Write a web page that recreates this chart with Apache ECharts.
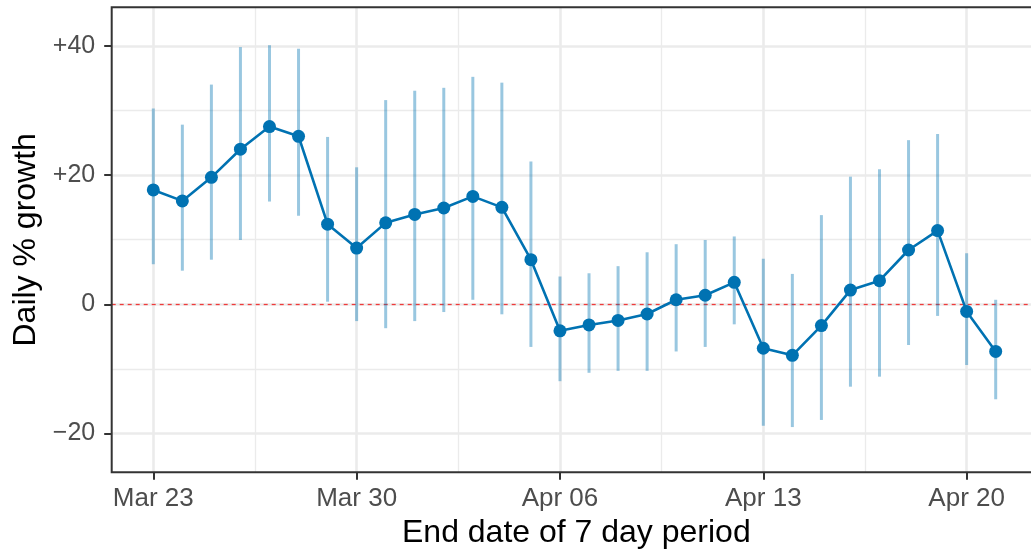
<!DOCTYPE html>
<html>
<head>
<meta charset="utf-8">
<script src="https://cdn.jsdelivr.net/npm/echarts@6/dist/echarts.min.js"></script>
<style>
html,body{margin:0;padding:0;background:#fff;}
#chart{width:1031px;height:557px;}
</style>
</head>
<body>
<div id="chart"></div>
<script>
// End dates of each 7-day period
const dates = ['Mar 23','Mar 24','Mar 25','Mar 26','Mar 27','Mar 28','Mar 29','Mar 30','Mar 31',
  'Apr 01','Apr 02','Apr 03','Apr 04','Apr 05','Apr 06','Apr 07','Apr 08','Apr 09','Apr 10',
  'Apr 11','Apr 12','Apr 13','Apr 14','Apr 15','Apr 16','Apr 17','Apr 18','Apr 19','Apr 20','Apr 21'];
// Daily % growth (point estimate)
const growth = [17.7, 16.0, 19.65, 24.0, 27.5, 26.0, 12.4, 8.7, 12.6, 13.9, 14.9, 16.7, 15.0, 6.9,
  -4.1, -3.2, -2.5, -1.5, 0.7, 1.4, 3.4, -6.8, -7.9, -3.3, 2.2, 3.65, 8.4, 11.4, -1.1, -7.3];
// Lower and upper interval bounds
const lower = [6.2, 5.2, 6.9, 9.95, 15.9, 13.7, 0.4, -2.6, -3.7, -2.6, -1.2, 0.7, -1.55, -6.6,
  -11.9, -10.6, -10.3, -10.3, -7.3, -6.6, -3.1, -18.8, -19.0, -17.9, -12.75, -11.2, -6.3, -1.8, -9.4, -14.7];
const upper = [30.3, 27.8, 34.0, 39.8, 40.1, 39.55, 25.9, 21.2, 31.6, 33.05, 33.5, 35.2, 34.3, 22.1,
  4.3, 4.8, 5.9, 8.05, 9.3, 9.95, 10.5, 7.05, 4.7, 13.8, 19.75, 20.9, 25.4, 26.35, 7.9, 0.7];
// Tick positions
const xTicks = [0, 7, 14, 21, 28];
const xMinor = [3.5, 10.5, 17.5, 24.5];
const yTicks = [-20, 0, 20, 40];
const yMinor = [-10, 10, 30];

const font = 'Liberation Sans, Arial, Helvetica, sans-serif';
const pts = growth.map((v, i) => [i, v]);
const bars = growth.map((v, i) => [i, lower[i], upper[i]]);

const gridLines = [];
xTicks.forEach(v => gridLines.push({xAxis: v, lineStyle: {color: '#ebebeb', width: 2.6, type: 'solid'}}));
xMinor.forEach(v => gridLines.push({xAxis: v, lineStyle: {color: '#ebebeb', width: 1.3, type: 'solid'}}));
yTicks.forEach(v => gridLines.push({yAxis: v, lineStyle: {color: '#ebebeb', width: 2.6, type: 'solid'}}));
yMinor.forEach(v => gridLines.push({yAxis: v, lineStyle: {color: '#ebebeb', width: 1.3, type: 'solid'}}));

const chart = echarts.init(document.getElementById('chart'), null, {renderer: 'canvas'});
chart.setOption({
  animation: false,
  backgroundColor: '#ffffff',
  grid: {left: 111.7, top: 7.3, right: -10, bottom: 84.7, show: true, outerBoundsMode: 'none',
    borderColor: '#333333', borderWidth: 2, backgroundColor: 'transparent', z: 10},
  xAxis: {
    type: 'value', min: -1.432, max: 30.56,
    name: 'End date of 7 day period', nameLocation: 'middle', nameGap: 45,
    nameTextStyle: {fontFamily: font, fontSize: 32, color: '#000000'},
    axisLine: {show: false, onZero: false},
    axisTick: {show: true, length: 7.5, customValues: xTicks, lineStyle: {color: '#333333', width: 2}},
    axisLabel: {customValues: xTicks, margin: 14, fontFamily: font, fontSize: 26, color: '#4d4d4d',
      formatter: v => dates[Math.round(v)]},
    splitLine: {show: false}
  },
  yAxis: {
    type: 'value', min: -26.0, max: 45.96,
    name: 'Daily % growth', nameLocation: 'middle', nameGap: 70,
    nameTextStyle: {fontFamily: font, fontSize: 32, color: '#000000'},
    axisLine: {show: false, onZero: false},
    axisTick: {show: true, length: 7.5, customValues: yTicks, lineStyle: {color: '#333333', width: 2}},
    axisLabel: {customValues: yTicks, margin: 16.5, fontFamily: font, fontSize: 25, color: '#4d4d4d',
      formatter: v => v > 0 ? '+' + v : (v < 0 ? '\u2212' + (-v) : '0')},
    splitLine: {show: false}
  },
  series: [
    {
      type: 'line', data: [], z: 1, silent: true,
      markLine: {z: 1, silent: true, symbol: 'none', label: {show: false}, animation: false, data: gridLines}
    },
    {
      type: 'line', data: [], z: 2, silent: true,
      markLine: {z: 2, silent: true, symbol: 'none', label: {show: false}, animation: false,
        data: [{yAxis: 0, lineStyle: {color: '#ef3b3b', width: 1.3, type: [4, 4]}}]}
    },
    {
      type: 'custom', z: 3, silent: true,
      data: bars,
      renderItem: function (params, api) {
        const x = api.value(0);
        const p1 = api.coord([x, api.value(1)]);
        const p2 = api.coord([x, api.value(2)]);
        return {type: 'line', shape: {x1: p1[0], y1: p1[1], x2: p2[0], y2: p2[1]},
          style: {stroke: 'rgba(0,114,178,0.4)', lineWidth: 3}};
      }
    },
    {
      type: 'line', z: 4, data: pts, symbol: 'circle', symbolSize: 13,
      lineStyle: {color: '#0072B2', width: 2.6},
      itemStyle: {color: '#0072B2'}
    }
  ]
});
</script>
</body>
</html>
